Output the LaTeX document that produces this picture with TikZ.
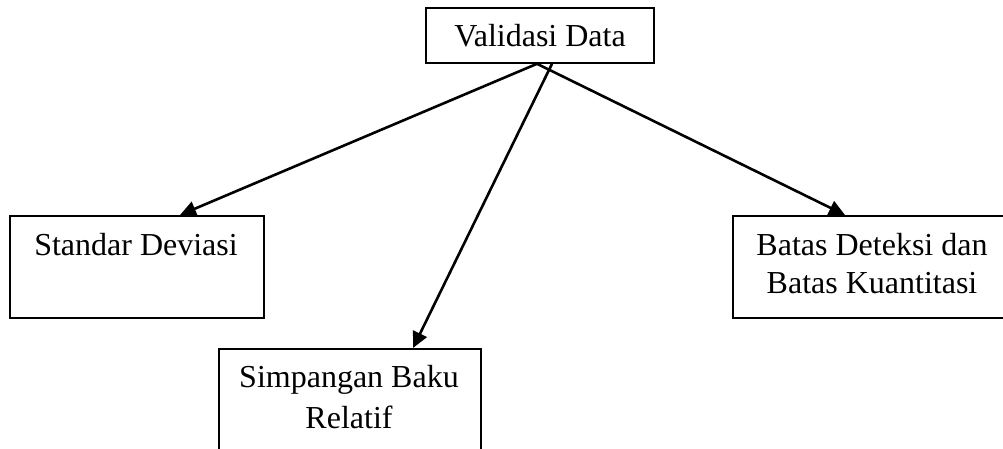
\documentclass[tikz,border=0pt]{standalone}
\usepackage{fontspec}
\setmainfont{Liberation Serif}
\usetikzlibrary{arrows.meta,calc}
\begin{document}
\begin{tikzpicture}[x=1pt,y=-1pt,
  box/.style={draw=black,line width=1.8pt,rectangle,inner sep=0pt,anchor=north west},
  lbl/.style={anchor=base,inner sep=0pt,font=\fontsize{32}{38}\selectfont},
  conn/.style={line width=2.6pt,-{Triangle[length=16pt,width=15pt]}}]
\useasboundingbox (0,0) rectangle (1003,449);
\begin{scope}
\clip (0,0) rectangle (1003,449);
\node[box,minimum width=228pt,minimum height=55pt] (vd) at (425,7) {};
\node[box,minimum width=254pt,minimum height=102pt] (sd) at (9,215) {};
\node[box,minimum width=280pt,minimum height=102pt] (bd) at (732,215) {};
\node[box,minimum width=262pt,minimum height=120pt] (sb) at (218,348) {};
\end{scope}
\node[lbl] (tvd) at (540,47) {Validasi Data};
\node[lbl] (tsd) at (136,255) {Standar Deviasi};
\node[lbl] (tbd1) at (872,255) {Batas Deteksi dan};
\node[lbl] (tbd2) at (872,293) {Batas Kuantitasi};
\node[lbl] (tsb1) at (349,387) {Simpangan Baku};
\node[lbl] (tsb2) at (349,428) {Relatif};
\coordinate (o1) at ($(vd.south west)+(112,0)$);
\coordinate (o2) at ($(vd.south west)+(127,0)$);
\draw[conn] (o1) -- ($(sd.north west)+(171,0)$);
\draw[conn] (o1) -- ($(bd.north west)+(113,0)$);
\draw[conn] (o2) -- ($(sb.north west)+(195,0)$);
\end{tikzpicture}
\end{document}
